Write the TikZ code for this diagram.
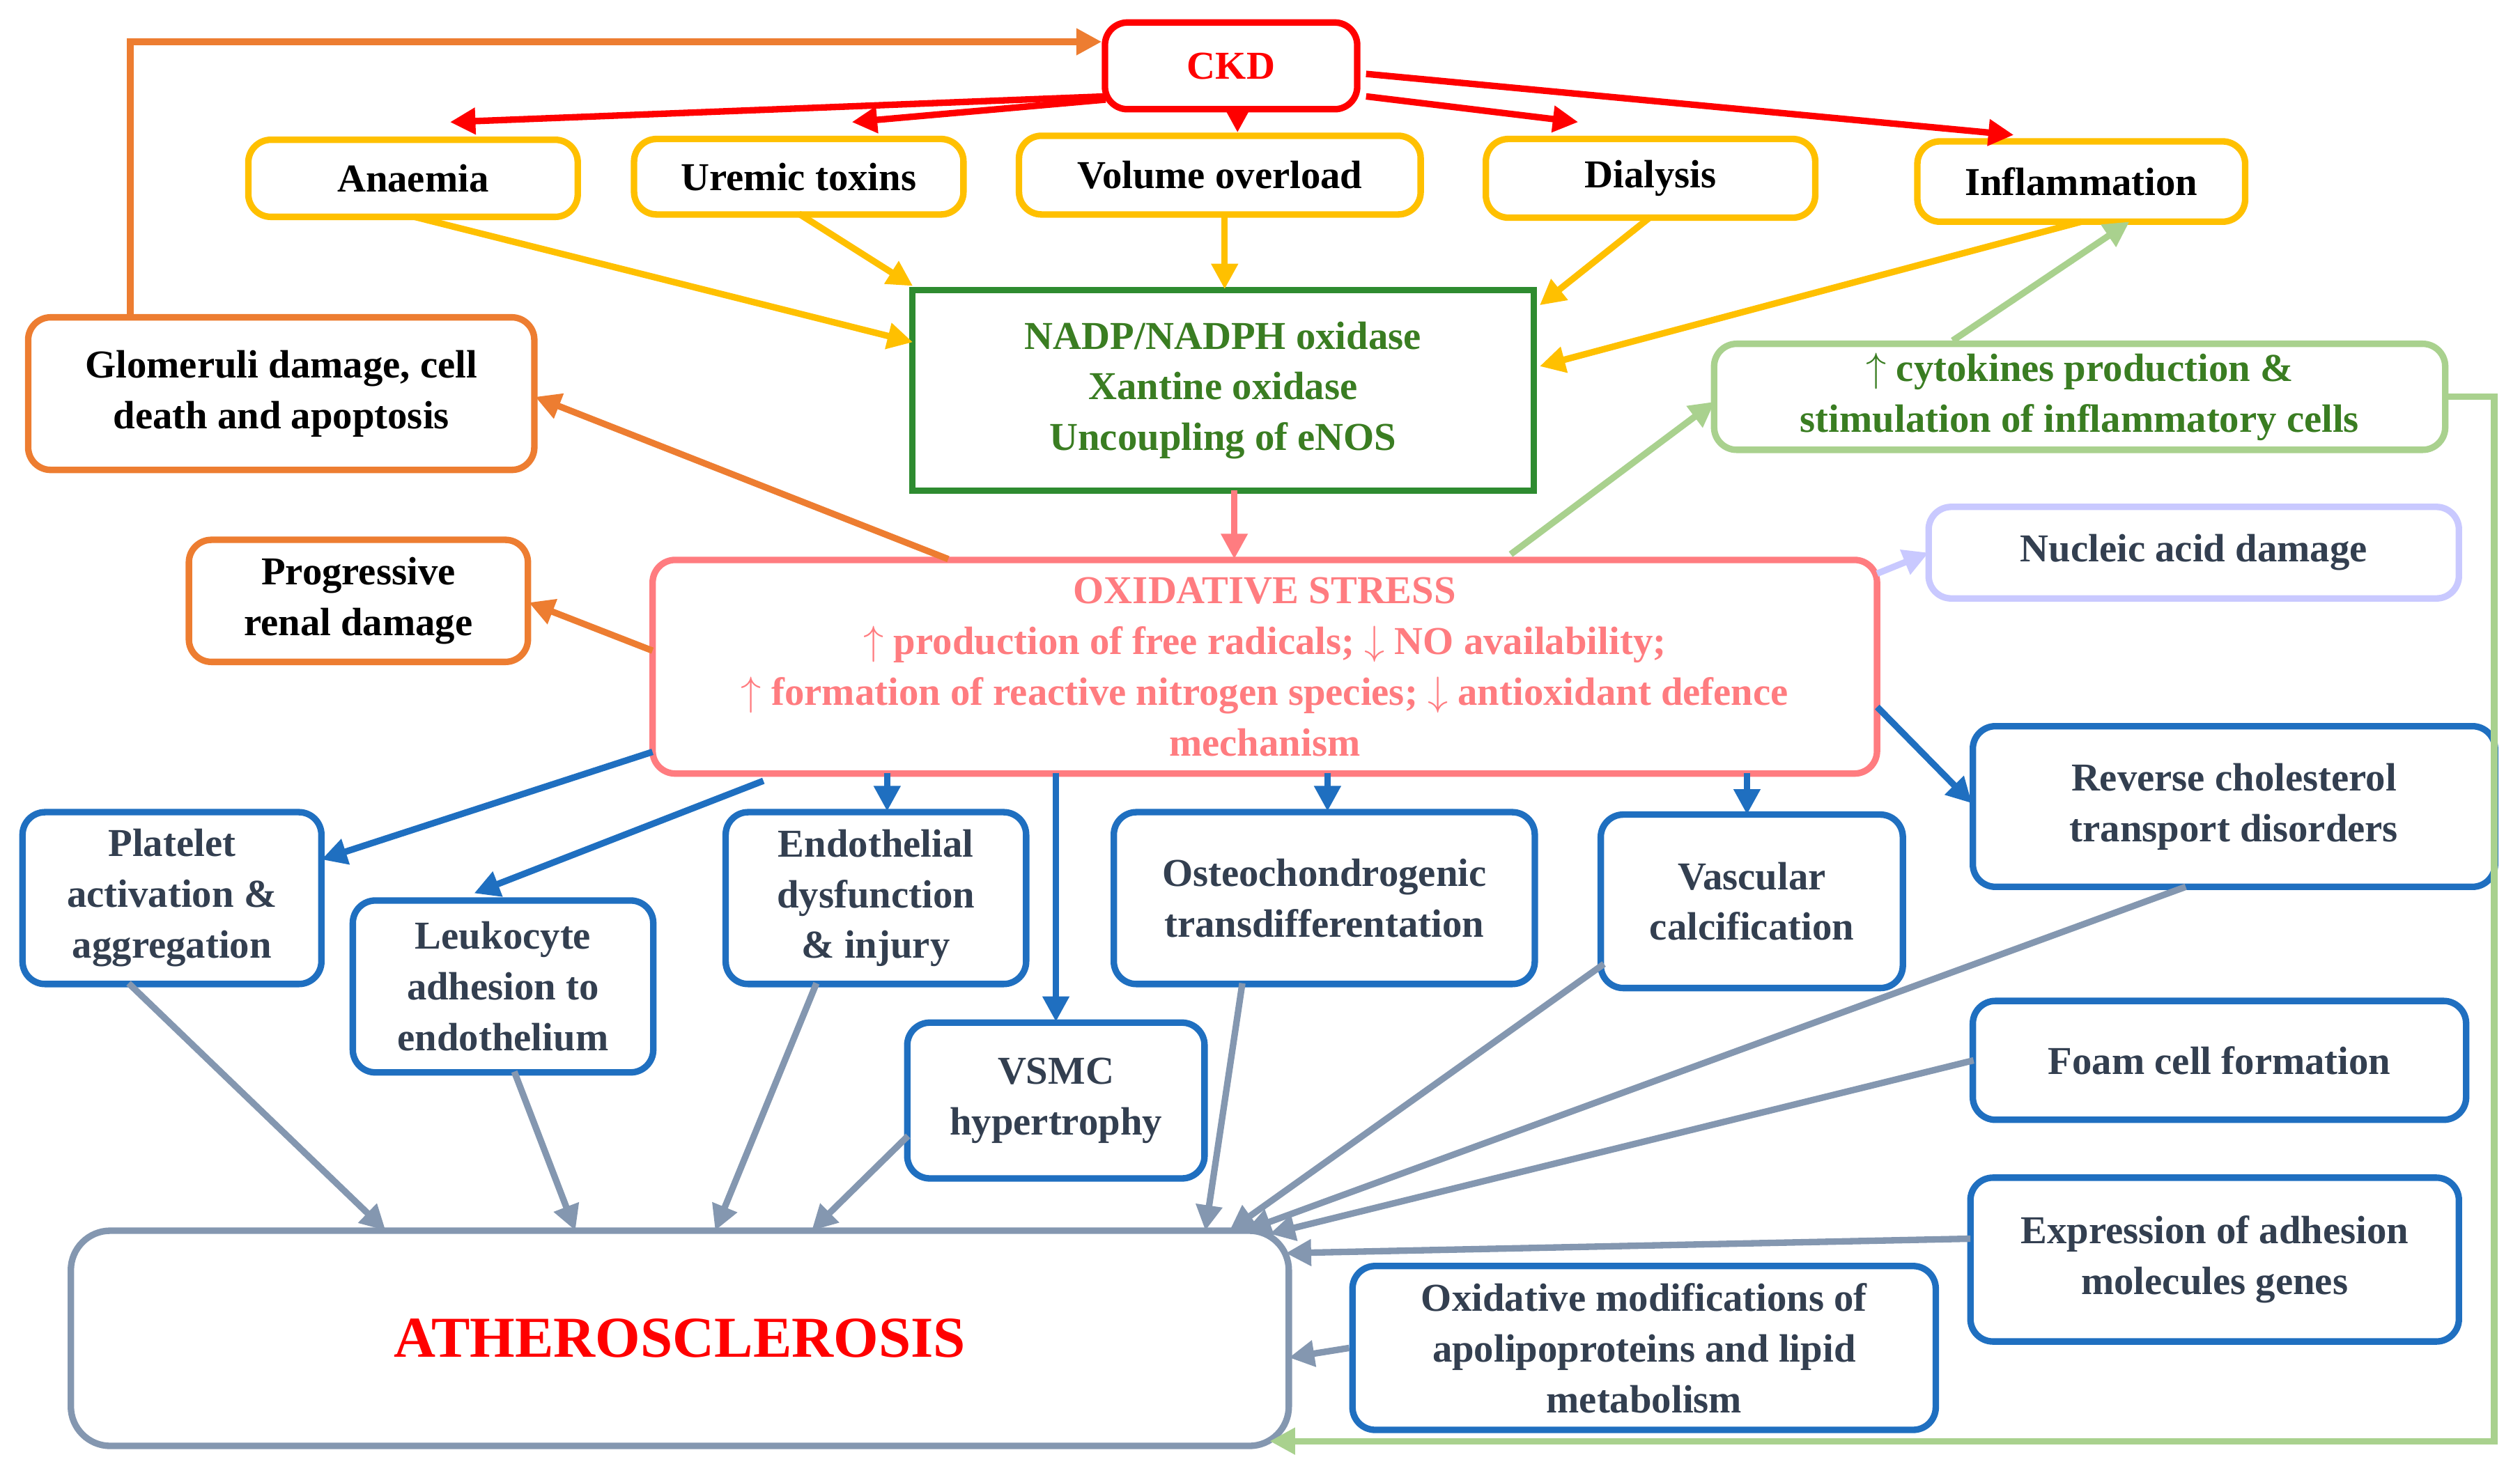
\documentclass[tikz,border=0pt]{standalone}
\usepackage{fontspec}
\setmainfont{Liberation Serif}
\usetikzlibrary{arrows.meta}
\definecolor{cred}{HTML}{FF0000}
\definecolor{cyel}{HTML}{FFC000}
\definecolor{cgrn}{HTML}{2E8B30}
\definecolor{tgrn}{HTML}{3A7D22}
\definecolor{corg}{HTML}{ED7D31}
\definecolor{clgr}{HTML}{A9D18E}
\definecolor{tlgr}{HTML}{3A7D22}
\definecolor{cpnk}{HTML}{FF7C80}
\definecolor{clav}{HTML}{C9C9FF}
\definecolor{cblu}{HTML}{1F6FC0}
\definecolor{tblu}{HTML}{333F50}
\definecolor{cgry}{HTML}{8497B0}
\begin{document}
\begin{tikzpicture}[x=0.02cm,y=-0.02cm,
  box/.style={draw,line width=2.3pt,rounded corners=8pt,align=center,inner sep=0pt,font=\fontsize{14}{18}\selectfont\bfseries},
  arr/.style={line width=2.3pt,-{Triangle[length=9pt,width=9pt]}},
  ln/.style={line width=2.3pt}]
\useasboundingbox (0,0) rectangle (1568,911);
\node[box,cred,text=cred,minimum width=3.14cm,minimum height=1.08cm] (ckd) at (766,41) {CKD};
\node[box,cyel,text=black,minimum width=4.1cm,minimum height=0.96cm] (an) at (257,111) {Anaemia};
\node[box,cyel,text=black,minimum width=4.1cm,minimum height=0.94cm] (ur) at (497,110) {Uremic toxins};
\node[box,cyel,text=black,minimum width=5cm,minimum height=0.98cm] (vo) at (759,109) {Volume overload};
\node[box,cyel,text=black,minimum width=4.1cm,minimum height=0.98cm] (di) at (1027,111) {Dialysis};
\node[box,cyel,text=black,minimum width=4.08cm,minimum height=1cm] (in) at (1295,113) {Inflammation};
\node[box,cgrn,text=tgrn,rounded corners=0pt,minimum width=7.74cm,minimum height=2.5cm] (nad) at (761,243) {NADP/NADPH oxidase\\Xantine oxidase\\Uncoupling of eNOS};
\node[box,corg,text=black,minimum width=6.3cm,minimum height=1.9cm] (gl) at (175,245) {Glomeruli damage, cell\\death and apoptosis};
\node[box,clgr,text=tlgr,minimum width=9.1cm,minimum height=1.32cm] (cy) at (1294,247) {$\uparrow$ cytokines production \&\\stimulation of inflammatory cells};
\node[box,corg,text=black,minimum width=4.22cm,minimum height=1.52cm] (pr) at (223,374) {Progressive\\renal damage};
\node[box,cpnk,text=cpnk,minimum width=15.24cm,minimum height=2.66cm] (os) at (787,415) {OXIDATIVE STRESS\\$\uparrow$ production of free radicals; $\downarrow$ NO availability;\\$\uparrow$ formation of reactive nitrogen species; $\downarrow$ antioxidant defence\\mechanism};
\node[box,clav,text=tblu,minimum width=6.6cm,minimum height=1.14cm] (nu) at (1365,344) {Nucleic acid damage};
\node[box,cblu,text=tblu,minimum width=6.5cm,minimum height=2cm] (re) at (1390,502) {Reverse cholesterol\\transport disorders};
\node[box,cblu,text=tblu,minimum width=3.72cm,minimum height=2.14cm] (pl) at (107,559) {Platelet\\activation \&\\aggregation};
\node[box,cblu,text=tblu,minimum width=3.74cm,minimum height=2.14cm] (le) at (313,614) {Leukocyte\\adhesion to\\endothelium};
\node[box,cblu,text=tblu,minimum width=3.74cm,minimum height=2.14cm] (en) at (545,559) {Endothelial\\dysfunction\\\& injury};
\node[box,cblu,text=tblu,minimum width=3.7cm,minimum height=1.94cm] (vs) at (657,685) {VSMC\\hypertrophy};
\node[box,cblu,text=tblu,minimum width=5.24cm,minimum height=2.14cm] (ost) at (824,559) {Osteochondrogenic\\transdifferentation};
\node[box,cblu,text=tblu,minimum width=3.76cm,minimum height=2.16cm] (va) at (1090,561) {Vascular\\calcification};
\node[box,cblu,text=tblu,minimum width=6.14cm,minimum height=1.48cm] (fo) at (1381,660) {Foam cell formation};
\node[box,cblu,text=tblu,minimum width=6.08cm,minimum height=2.04cm] (ex) at (1378,784) {Expression of adhesion\\molecules genes};
\node[box,cblu,text=tblu,minimum width=7.26cm,minimum height=2.04cm] (om) at (1023,839) {Oxidative modifications of\\apolipoproteins and lipid\\metabolism};
\node[box,cgry,text=cred,rounded corners=14pt,minimum width=15.16cm,minimum height=2.68cm,font=\fontsize{20.5}{24}\selectfont\bfseries] (at) at (423,833) {ATHEROSCLEROSIS};
% CKD arrows
\draw[arr,cred] (688,60) -- (280,76);
\draw[arr,cred] (688,62) -- (530,76);
\draw[arr,cred] (770,68) -- (vo.north-|770,0);
\draw[arr,cred] (850,60) -- (982,76);
\draw[arr,cred] (850,46) -- (1253,84);
% yellow
\draw[arr,cyel] (258,135) -- (568,213);
\draw[arr,cyel] (497,133) -- (568,178);
\draw[arr,cyel] (762,133) -- (762,180);
\draw[arr,cyel] (1027,135) -- (958,190);
\draw[arr,cyel] (1295,138) -- (958,228);
% orange
\draw[arr,corg] (gl.north-|81,0) -- (81,26) -- (ckd.west|-0,26);
\draw[arr,cpnk] (768,305) -- (768,348);
\draw[arr,corg] (590,348) -- (333,247);
\draw[arr,corg] (406,405) -- (329,375);
% green
\draw[arr,clgr] (940,345) -- (1067,250);
\draw[arr,clgr] (1215,212) -- (1325,138);
\draw[arr,clgr] (cy.east) -- (1552,247) -- (1552,897) -- (790,897);
\draw[arr,clav] (1168,357) -- (1200,344);
% blue
\draw[arr,cblu] (1168,440) -- (1227,500);
\draw[arr,cblu] (406,468) -- (200,535);
\draw[arr,cblu] (475,486) -- (295,556);
\draw[arr,cblu] (552,481) -- (552,505);
\draw[arr,cblu] (657,481) -- (657,636);
\draw[arr,cblu] (826,481) -- (826,505);
\draw[arr,cblu] (1087,481) -- (1087,507);
% gray
\draw[arr,cgry] (80,612) -- (240,766);
\draw[arr,cgry] (320,667) -- (358,766);
\draw[arr,cgry] (508,612) -- (445,766);
\draw[arr,cgry] (565,707) -- (505,766);
\draw[arr,cgry] (773,612) -- (750,766);
\draw[arr,cgry] (998,600) -- (765,766);
\draw[arr,cgry] (1360,552) -- (775,766);
\draw[arr,cgry] (1228,660) -- (790,768);
\draw[arr,cgry] (1226,771) -- (800,780);
\draw[arr,cgry] (om.west) -- (802,845);
\end{tikzpicture}
\end{document}
